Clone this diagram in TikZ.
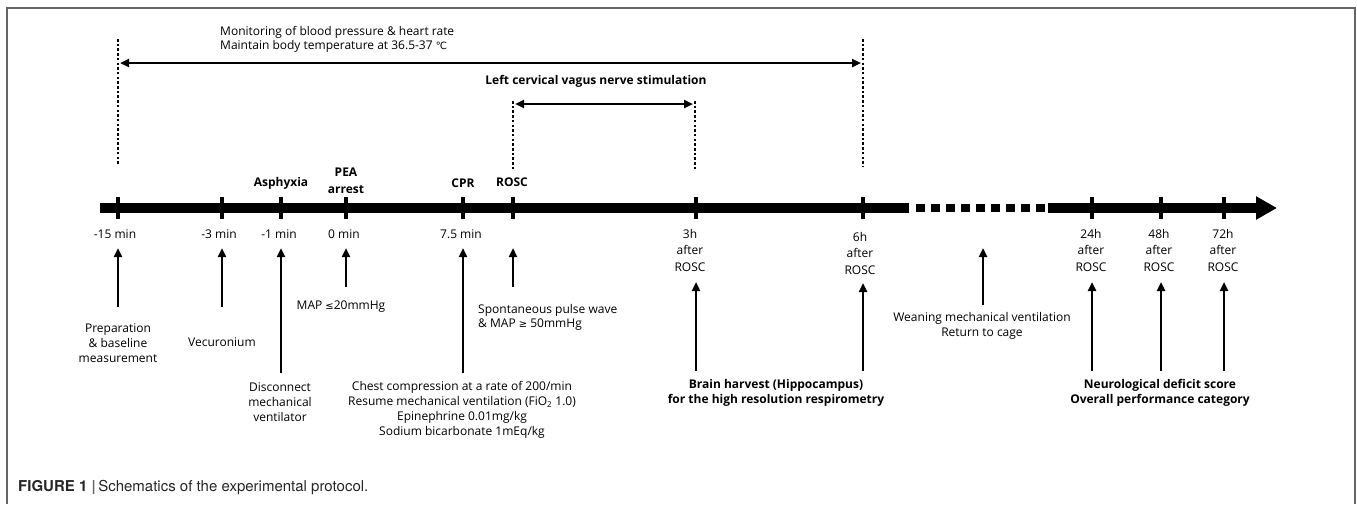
\documentclass[tikz,border=0pt]{standalone}
\usepackage{fontspec}
\setmainfont{Open Sans}
\newfontfamily\dvfont{DejaVu Sans}
\newfontfamily\capfont{TeX Gyre Heros}
\usetikzlibrary{arrows.meta}
\tikzset{
  lbl/.style={font=\fontsize{12}{15}\selectfont, align=center, inner sep=0pt},
  blbl/.style={font=\fontsize{12}{15}\selectfont\bfseries, align=center, inner sep=0pt},
  hlbl/.style={font=\fontsize{12}{16.5}\selectfont, align=center, inner sep=0pt},
  uparr/.style={line width=2.6pt, -{Triangle[width=8pt,length=9pt]}},
  spanarr/.style={line width=2.6pt, {Triangle[width=8pt,length=9pt]}-{Triangle[width=8pt,length=9pt]}},
  vdots/.style={line width=2.5pt, dash pattern=on 2.5pt off 2.2pt},
  tickmark/.style={line width=3.5pt},
}
\begin{document}
\begin{tikzpicture}[x=1pt,y=-1pt]
\useasboundingbox (0,0) rectangle (1357,504);
\draw[gray!80!black, line width=1.2pt] (7,504) -- (7,8) -- (1355,8) -- (1355,504);

% monitoring span
\node[lbl, align=left, anchor=west, font=\fontsize{12}{14}\selectfont] (mon) at (220,39) {Monitoring of blood pressure \& heart rate\\Maintain body temperature at 36.5-37 {\dvfont\fontsize{10}{14}\selectfont ℃}};
\coordinate (monL) at (118,39);
\coordinate (monR) at (863,39);
\draw[vdots] (monL) -- (118,165);
\draw[vdots] (monR) -- (863,167);
\draw[spanarr] (120,63) -- (861,63);

% stimulation span
\node[blbl] (stim) at (596,81) {Left cervical vagus nerve stimulation};
\coordinate (stimL) at (513,101);
\coordinate (stimR) at (695,101);
\draw[vdots] (stimL) -- (513,170);
\draw[vdots] (stimR) -- (695,169);
\draw[spanarr] (515,104) -- (693,104);

% time axis
\draw[line width=9.5pt] (100,208) -- (909,208);
\draw[line width=8pt, dash pattern=on 9pt off 6pt] (916,208) -- (1046,208);
\draw[line width=9.5pt, -{Triangle[width=22pt,length=21pt]}] (1048,208) -- (1277,208);

\draw[tickmark] (118,197) -- (118,219);
\draw[tickmark] (222,197) -- (222,219);
\draw[tickmark] (281,197) -- (281,219);
\draw[tickmark] (346,197) -- (346,219);
\draw[tickmark] (463,197) -- (463,219);
\draw[tickmark] (513,197) -- (513,219);
\draw[tickmark] (696,197) -- (696,219);
\draw[tickmark] (863,197) -- (863,219);
\draw[tickmark] (1092,197) -- (1092,219);
\draw[tickmark] (1161,197) -- (1161,219);
\draw[tickmark] (1224,197) -- (1224,219);

% events above the axis
\node[blbl] (asph) at (281,183) {Asphyxia};
\node[blbl, font=\fontsize{12}{17}\selectfont\bfseries] (pea) at (346,181) {PEA\\arrest};
\node[blbl] (cpr) at (463,183) {CPR};
\node[blbl] (rosc) at (512,182) {ROSC};

% times below the axis
\node[lbl] (tm15) at (115,234) {-15 min};
\node[lbl] (tm3) at (219,234) {-3 min};
\node[lbl] (tm1) at (279,234) {-1 min};
\node[lbl] (t0) at (344,234) {0 min};
\node[lbl] (t75) at (461,234) {7.5 min};
\node[hlbl] (t3h) at (690,250) {3h\\after\\ROSC};
\node[hlbl] (t6h) at (860,253) {6h\\after\\ROSC};
\node[hlbl] (t24h) at (1091,250) {24h\\after\\ROSC};
\node[hlbl] (t48h) at (1159,250) {48h\\after\\ROSC};
\node[hlbl] (t72h) at (1223,250) {72h\\after\\ROSC};

% what happens
\node[lbl] (prep) at (118,343) {Preparation\\\& baseline\\measurement};
\node[lbl] (vec) at (222,342) {Vecuronium};
\node[lbl] (disc) at (280,402) {Disconnect\\mechanical\\ventilator};
\node[lbl] (mapl) at (341,307) {MAP {\dvfont\fontsize{10}{15}\selectfont ≤}20mmHg};
\node[lbl] (chest) at (462,410) {Chest compression at a rate of 200/min\\Resume mechanical ventilation (FiO\textsubscript{2} 1.0)\\Epinephrine 0.01mg/kg\\Sodium bicarbonate 1mEq/kg};
\node[lbl, align=left, anchor=west, font=\fontsize{12}{14}\selectfont] (spont) at (478,317) {Spontaneous pulse wave\\\& MAP {\dvfont\fontsize{10}{14}\selectfont ≥} 50mmHg};
\node[blbl] (brain) at (776,393) {Brain harvest (Hippocampus)\\for the high resolution respirometry};
\node[lbl] (wean) at (982,326) {Weaning mechanical ventilation\\Return to cage};
\node[blbl] (neuro) at (1160,393) {Neurological deficit score\\Overall performance category};

\coordinate (a15) at (118,307);
\coordinate (a3) at (222,307);
\coordinate (a1) at (281,373);
\coordinate (a0) at (346,287);
\coordinate (a75) at (463,373);
\coordinate (ar) at (513,287);
\coordinate (a3h) at (696,371);
\coordinate (a6h) at (863,371);
\coordinate (aw) at (983,305);
\coordinate (a24) at (1092,371);
\coordinate (a48) at (1161,371);
\coordinate (a72) at (1224,371);

\draw[uparr] (a15) -- (118,248);
\draw[uparr] (a3) -- (222,248);
\draw[uparr] (a1) -- (281,248);
\draw[uparr] (a0) -- (346,248);
\draw[uparr] (a75) -- (463,248);
\draw[uparr] (ar) -- (513,248);
\draw[uparr] (a3h) -- (696,282);
\draw[uparr] (a6h) -- (863,283);
\draw[uparr] (aw) -- (983,248);
\draw[uparr] (a24) -- (1092,282);
\draw[uparr] (a48) -- (1161,282);
\draw[uparr] (a72) -- (1224,282);

% caption
\node[anchor=west, inner sep=0pt, font=\capfont\fontsize{15}{17}\selectfont, text=black!85] (cap) at (18,488) {\textbf{FIGURE 1 {\color{black!60}|}}\,Schematics of the experimental protocol.};
\end{tikzpicture}
\end{document}
